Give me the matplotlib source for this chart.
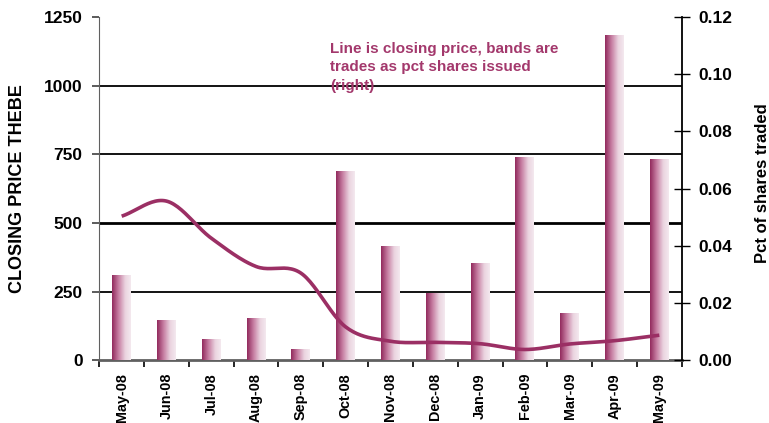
import numpy as np
import matplotlib.pyplot as plt
from matplotlib.colors import LinearSegmentedColormap

# Monthly data
months = ['May-08', 'Jun-08', 'Jul-08', 'Aug-08', 'Sep-08', 'Oct-08', 'Nov-08',
          'Dec-08', 'Jan-09', 'Feb-09', 'Mar-09', 'Apr-09', 'May-09']
closing_price = [525, 580, 445, 342, 318, 122, 70, 66, 61, 40, 60, 72, 92]
pct_traded = [0.0295, 0.0138, 0.0071, 0.0145, 0.0036, 0.0659, 0.0398,
              0.0233, 0.0337, 0.0707, 0.0162, 0.1134, 0.0702]

LINE_COLOR = '#9b2f64'
TEXT_COLOR = '#a3386c'
bar_cmap = LinearSegmentedColormap.from_list(
    'band', [(0.0, '#922a5d'), (0.35, '#c77fa3'), (0.7, '#ead3df'), (1.0, '#f4e9ef')])


def smooth(xs, ys, n=24):
    '''Catmull-Rom curve through the points (Excel style smoothed line)'''
    xs = np.asarray(xs, float)
    ys = np.asarray(ys, float)
    px = np.concatenate([[2 * xs[0] - xs[1]], xs, [2 * xs[-1] - xs[-2]]])
    py = np.concatenate([[2 * ys[0] - ys[1]], ys, [2 * ys[-1] - ys[-2]]])
    out_x, out_y = [], []
    t = np.linspace(0, 1, n, endpoint=False)
    for i in range(1, len(px) - 2):
        for p, out in ((px, out_x), (py, out_y)):
            p0, p1, p2, p3 = p[i - 1], p[i], p[i + 1], p[i + 2]
            out.extend(0.5 * ((2 * p1) + (-p0 + p2) * t +
                              (2 * p0 - 5 * p1 + 4 * p2 - p3) * t ** 2 +
                              (-p0 + 3 * p1 - 3 * p2 + p3) * t ** 3))
    out_x.append(xs[-1])
    out_y.append(ys[-1])
    return np.array(out_x), np.array(out_y)


plt.rcParams['font.family'] = ['Liberation Sans', 'DejaVu Sans']

fig = plt.figure(figsize=(7.69, 4.23), dpi=100)
ax = fig.add_axes([0.1291, 0.1478, 0.7574, 0.812])
ax2 = ax.twinx()

x = np.arange(len(months))

# Gridlines on the price axis (below the bars)
for level in [250, 500, 750, 1000]:
    ax.axhline(level, color='black', lw=2.0 if level == 500 else 1.3, zorder=1)

# Gradient bars on the right axis
bar_w = 0.42
grad = np.linspace(0, 1, 64).reshape(1, -1)
for xi, h in zip(x, pct_traded):
    ax2.imshow(grad, extent=[xi - bar_w / 2, xi + bar_w / 2, 0, h],
               aspect='auto', cmap=bar_cmap, origin='lower', zorder=2,
               interpolation='bilinear')

# Smoothed closing price line, drawn on top using the left axis scale
sx, sy = smooth(x, closing_price)
ax2.plot(sx, sy, color=LINE_COLOR, lw=2.6, solid_capstyle='butt',
         transform=ax.transData, zorder=3)

ax.set_xlim(-0.5, len(months) - 0.5)
ax2.set_xlim(-0.5, len(months) - 0.5)
ax.set_ylim(0, 1250)
ax2.set_ylim(0, 0.12)

ax.set_yticks([0, 250, 500, 750, 1000, 1250])
ax2.set_yticks([0, 0.02, 0.04, 0.06, 0.08, 0.10, 0.12])
ax2.set_yticklabels([f'{v:.2f}' for v in [0, 0.02, 0.04, 0.06, 0.08, 0.10, 0.12]])

ax.set_xticks(x)
ax.set_xticklabels(months, rotation=90, fontweight='bold', fontsize=10.4)
ax.set_xticks(np.arange(-0.5, len(months)), minor=True)
ax.tick_params(axis='x', which='major', length=0, pad=9)
ax.tick_params(axis='x', which='minor', length=5, width=1.2, direction='out', color='black')
ax.tick_params(axis='y', length=5, width=1.2, direction='out', pad=7, color='#404040')
ax2.tick_params(axis='y', length=12, width=1.0, direction='inout', pad=6)

for lab in ax.get_yticklabels() + ax2.get_yticklabels():
    lab.set_fontweight('bold')
    lab.set_fontsize(12.5)

for a in (ax, ax2):
    a.spines['top'].set_visible(False)
ax.spines['left'].set_color('#606060')
ax2.spines['left'].set_visible(False)
ax2.spines['bottom'].set_visible(False)
ax.spines['bottom'].set_color('#606060')
ax.spines['bottom'].set_linewidth(2.0)
ax.spines['right'].set_visible(False)
ax2.spines['right'].set_color('black')
ax2.spines['right'].set_linewidth(1.3)

ax.set_ylabel('CLOSING PRICE THEBE', fontweight='bold', fontsize=13)
ax.yaxis.set_label_coords(-0.126, 0.5)
ax2.set_ylabel('Pct of shares traded', fontweight='bold', fontsize=12)
ax2.yaxis.set_label_coords(1.126, 0.517)

ax.text(0.396, 0.927, 'Line is closing price, bands are\ntrades as pct shares issued\n(right)',
        transform=ax.transAxes, color=TEXT_COLOR, fontweight='bold', fontsize=11,
        ha='left', va='top', linespacing=1.4, zorder=5)

fig.savefig('out.png', dpi=100)
